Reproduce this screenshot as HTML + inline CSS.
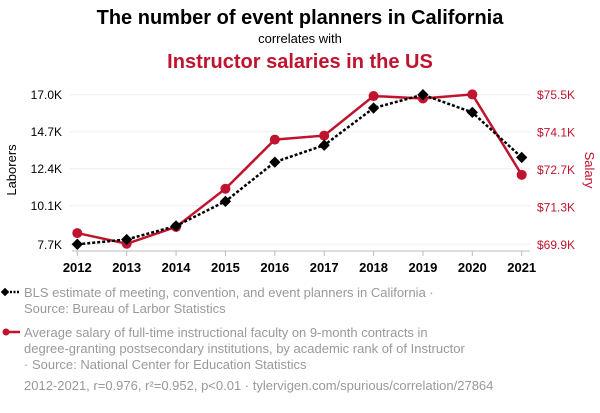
<!DOCTYPE html>
<html><head><meta charset="utf-8"><style>
body{margin:0;width:600px;height:408px;background:#fff;font-family:"Liberation Sans",sans-serif;overflow:hidden}
svg text{font-family:"Liberation Sans",sans-serif}
</style></head><body>
<svg id="chart" width="600" height="408">
<text x="300" y="24" text-anchor="middle" font-size="20" font-weight="bold" fill="#000">The number of event planners in California</text>
<text x="300" y="43" text-anchor="middle" font-size="13" fill="#000">correlates with</text>
<text x="300" y="68" text-anchor="middle" font-size="20" font-weight="bold" fill="#c0132e">Instructor salaries in the US</text>
<g id="grid"></g><g id="axes"></g><g id="series"></g>
<text transform="translate(16,170) rotate(-90)" text-anchor="middle" font-size="13" fill="#000">Laborers</text>
<text transform="translate(585,170) rotate(90)" text-anchor="middle" font-size="13" fill="#c0132e">Salary</text>
<g>
<line x1="3" y1="292" x2="20" y2="292" stroke="#000" stroke-width="2.5" stroke-dasharray="2,1.5"/>
<rect x="2" y="289" width="6" height="6" transform="rotate(45 5 292)" fill="#000"/>
<text x="24" y="297" font-size="13" fill="#999">BLS estimate of meeting, convention, and event planners in California ·</text>
<text x="24" y="313" font-size="13" fill="#999">Source: Bureau of Larbor Statistics</text>
</g>
<g>
<line x1="3" y1="332" x2="20" y2="332" stroke="#c0132e" stroke-width="2.5"/>
<circle cx="6" cy="332" r="3.5" fill="#c0132e"/>
<text x="24" y="337" font-size="13" fill="#999">Average salary of full-time instructional faculty on 9-month contracts in</text>
<text x="24" y="353" font-size="13" fill="#999">degree-granting postsecondary institutions, by academic rank of of Instructor</text>
<text x="24" y="369" font-size="13" fill="#999">· Source: National Center for Education Statistics</text>
</g>
<text x="24" y="390" font-size="13" fill="#999">2012-2021, r=0.976, r²=0.952, p&lt;0.01 · tylervigen.com/spurious/correlation/27864</text>
</svg>
<script>
const years=[2012,2013,2014,2015,2016,2017,2018,2019,2020,2021];
const laborers=[7.7,8.0,8.84,10.37,12.81,13.86,16.17,17.0,15.9,13.1];
const salary=[70.32,69.92,70.55,71.98,73.82,73.97,75.45,75.36,75.51,72.5];
const leftTicks=[7.7,10.1,12.4,14.7,17.0];
const leftTickLabels=["7.7K","10.1K","12.4K","14.7K","17.0K"];
const rightTicks=[69.9,71.3,72.7,74.1,75.5];
const rightTickLabels=["$69.9K","$71.3K","$72.7K","$74.1K","$75.5K"];
const NS="http://www.w3.org/2000/svg";
const x0=77.3,x1=521.7,yTop=94.7,yBot=244.3;
const xs=i=>x0+(x1-x0)*i/(years.length-1);
const yL=v=>yBot-(v-7.7)/(17.0-7.7)*(yBot-yTop);
const yR=v=>yBot-(v-69.9)/(75.5-69.9)*(yBot-yTop);
function mk(t,a,p){const e=document.createElementNS(NS,t);for(const k in a)e.setAttribute(k,a[k]);p.appendChild(e);return e;}
const grid=document.getElementById('grid'),axes=document.getElementById('axes'),ser=document.getElementById('series');
leftTicks.forEach((v,i)=>{
 const l=mk('line',{x1:70,x2:530,y1:yL(v),y2:yL(v),stroke:'#eee','stroke-width':1},grid);
 
 
 const t=mk('text',{x:62,y:yL(v)+4.5,'text-anchor':'end','font-size':12,fill:'#000'},axes);t.textContent=leftTickLabels[i];
 
 
});
rightTicks.forEach((v,i)=>{
 const t=mk('text',{x:537,y:yR(v)+4.5,'font-size':12,fill:'#c0132e'},axes);t.textContent=rightTickLabels[i];
 
 
});
const ax=mk('line',{x1:72,x2:530,y1:251,y2:251,stroke:'#bbb','stroke-width':1},axes);


years.forEach((y,i)=>{
 mk('line',{x1:xs(i),x2:xs(i),y1:251,y2:256,stroke:'#bbb'},axes);
 const t=mk('text',{x:xs(i),y:272,'text-anchor':'middle','font-size':13,'font-weight':'bold',fill:'#000'},axes);t.textContent=y;
 
 
});
const rp=mk('polyline',{points:salary.map((v,i)=>xs(i)+','+yR(v)).join(' '),fill:'none',stroke:'#c0132e','stroke-width':2.5},ser);


salary.forEach((v,i)=>{const c=mk('circle',{cx:xs(i),cy:yR(v),r:5,fill:'#c0132e'},ser);
 
 });
const bp=mk('polyline',{points:laborers.map((v,i)=>xs(i)+','+yL(v)).join(' '),fill:'none',stroke:'#000','stroke-width':2.5,'stroke-dasharray':'3,2'},ser);


laborers.forEach((v,i)=>{const r=mk('rect',{x:xs(i)-4,y:yL(v)-4,width:8,height:8,fill:'#000',transform:`rotate(45 ${xs(i)} ${yL(v)})`},ser);
 
 });
</script>
</body></html>
